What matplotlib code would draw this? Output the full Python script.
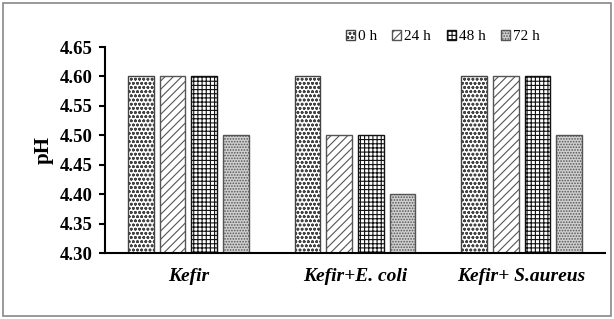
import matplotlib.pyplot as plt
import numpy as np
from matplotlib.patches import Rectangle

plt.rcParams['font.family'] = ['Liberation Serif', 'DejaVu Serif']
plt.rcParams['hatch.linewidth'] = 0.8

groups = ['Kefir', 'Kefir+E. coli', 'Kefir+ S.aureus']
times = ['0 h', '24 h', '48 h', '72 h']
ph_0h = [4.60, 4.60, 4.60]
ph_24h = [4.60, 4.50, 4.60]
ph_48h = [4.60, 4.50, 4.60]
ph_72h = [4.50, 4.40, 4.50]
yticks = [4.30, 4.35, 4.40, 4.45, 4.50, 4.55, 4.60, 4.65]

series = [ph_0h, ph_24h, ph_48h, ph_72h]
styles = [
    dict(facecolor='white', hatch='oooo', edgecolor='#444444'),
    dict(facecolor='white', hatch='////', edgecolor='#555555'),
    dict(facecolor='white', hatch='++++', edgecolor='#111111'),
    dict(facecolor='#d0d0d0', hatch='......', edgecolor='#555555'),
]

fig = plt.figure(figsize=(6.14, 3.19), dpi=100)
ax = fig.add_axes([105/614, 1 - 253/319, 500/614, (253 - 47)/319])

x = np.arange(len(groups))
w = 0.155
step = 0.19
for i, (vals, st) in enumerate(zip(series, styles)):
    ax.bar(x + (i - 1.5) * step, np.array(vals) - 4.30, bottom=4.30, width=w,
           linewidth=1.0, label=times[i], **st)

ax.set_xlim(-0.5, 2.5)
ax.set_ylim(4.30, 4.65)
ax.set_yticks(yticks)
ax.set_yticklabels([f'{v:.2f}' for v in yticks], fontsize=13.5, fontweight='bold')
ax.set_xticks(x)
ax.set_xticklabels(groups, fontsize=14, fontweight='bold', fontstyle='italic')
ax.tick_params(axis='x', length=0, pad=11)
ax.tick_params(axis='y', direction='out', length=4, width=1.5, pad=5)
ax.set_ylabel('pH', fontsize=15, fontweight='bold', labelpad=4)
for s in ['top', 'right']:
    ax.spines[s].set_visible(False)
ax.spines['left'].set_linewidth(1.5)
ax.spines['bottom'].set_linewidth(1.5)

leg = ax.legend(loc='upper right', bbox_to_anchor=(0.897, 1.15), ncol=4, frameon=False,
                fontsize=11, handlelength=0.6, handleheight=0.6, handletextpad=0.2,
                columnspacing=1.0)

fig.patches.append(Rectangle((0.005, 0.01), 0.99, 0.98, transform=fig.transFigure,
                             fill=False, edgecolor='#888888', linewidth=1.2))

fig.savefig('out.png', dpi=100)
